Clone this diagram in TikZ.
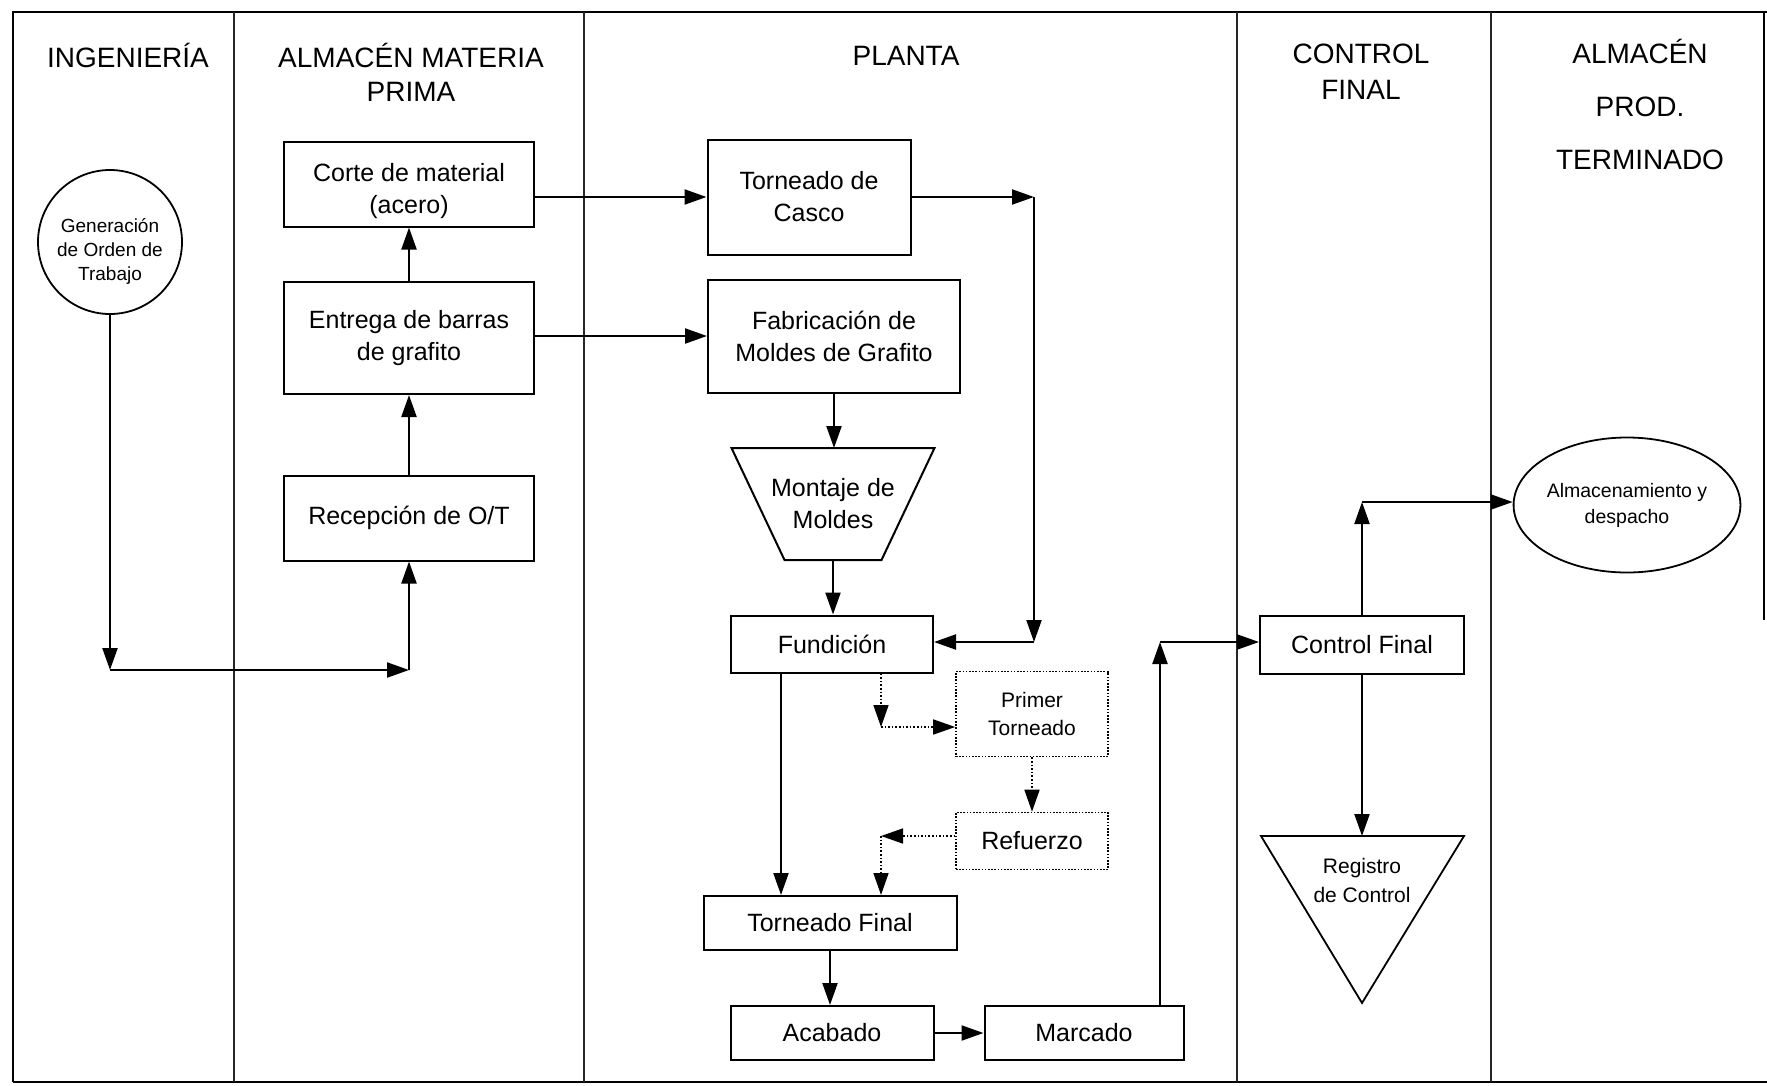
\documentclass[tikz,border=0pt]{standalone}
\usepackage{fontspec}
\setmainfont{Liberation Sans}
\usetikzlibrary{arrows.meta,shapes.geometric}
\begin{document}
\begin{tikzpicture}[x=1pt,y=-1pt,
  lane/.style={line width=2pt,black!85},
  hdr/.style={anchor=base,inner sep=0pt,font=\fontsize{28}{34}\selectfont},
  box/.style={draw,line width=2pt,rectangle,inner sep=0pt,align=center,font=\fontsize{25}{32}\selectfont},
  dbox/.style={box,line width=1.6pt,dash pattern=on 1.6pt off 1.6pt},
  arr/.style={line width=2.2pt,-{Triangle[length=22pt,width=15pt]}},
  darr/.style={line width=1.6pt,dash pattern=on 1.6pt off 2pt,-{Triangle[length=22pt,width=15pt]}}]
\useasboundingbox (0,0) rectangle (1767,1085);
% frame and lanes
\draw[line width=2.6pt] (13,1082) -- (13,12) -- (1767,12);
\draw[line width=2.6pt] (13,1082) -- (1767,1082);
\draw[line width=2.6pt] (1764,12) -- (1764,620);
\foreach \xx in {234,584,1237,1491} \draw[lane] (\xx,12) -- (\xx,1082);
% headers
\node[hdr] (h1) at (128,67) {INGENIERÍA};
\node[hdr] (h2a) at (411,67) {ALMACÉN MATERIA};
\node[hdr] (h2b) at (411,101) {PRIMA};
\node[hdr] (h3) at (906,65) {PLANTA};
\node[hdr] (h4a) at (1361,63) {CONTROL};
\node[hdr] (h4b) at (1361,99) {FINAL};
\node[hdr] (h5a) at (1640,63) {ALMACÉN};
\node[hdr] (h5b) at (1640,116) {PROD.};
\node[hdr] (h5c) at (1640,169) {TERMINADO};
% nodes
\node[draw,circle,line width=1.8pt,minimum size=144pt,inner sep=0pt,align=center,font=\fontsize{19}{24}\selectfont] (gen) at (110,242) {\rule{0pt}{32pt}Generación\\de Orden de\\Trabajo};
\node[box,minimum width=250pt,minimum height=85pt] (corte) at (409,184) {\rule{0pt}{32pt}Corte de material\\(acero)};
\node[box,minimum width=250pt,minimum height=112pt] (entrega) at (409,338) {Entrega de barras\\de grafito};
\node[box,minimum width=250pt,minimum height=85pt] (recep) at (409,518) {Recepción de O/T};
\node[box,minimum width=203pt,minimum height=115pt] (tc) at (809,197) {Torneado de\\Casco};
\node[box,minimum width=252pt,minimum height=113pt] (fab) at (834,336) {Fabricación de\\Moldes de Grafito};
\node[box,draw=none,minimum width=201pt,minimum height=110pt] (mont) at (833,504) {Montaje de\\Moldes};
\draw[line width=2pt,line join=miter] (mont.north west) -- (mont.north east) -- ([xshift=-53pt]mont.south east) -- ([xshift=53pt]mont.south west) -- cycle;
\node[box,minimum width=202pt,minimum height=57pt] (fun) at (832,644) {Fundición};
\node[dbox,minimum width=152pt,minimum height=85pt,font=\fontsize{21}{28}\selectfont] (pt) at (1032,714) {Primer\\Torneado};
\node[dbox,minimum width=152pt,minimum height=57pt] (ref) at (1032,841) {Refuerzo};
\node[box,minimum width=253pt,minimum height=54pt] (tf) at (830,923) {Torneado Final};
\node[box,minimum width=203pt,minimum height=54pt] (ac) at (832,1033) {Acabado};
\node[box,minimum width=199pt,minimum height=54pt] (mar) at (1084,1033) {Marcado};
\node[box,minimum width=204pt,minimum height=58pt] (cf) at (1362,645) {Control Final};
\node[draw,ellipse,line width=1.8pt,minimum width=224pt,minimum height=135pt,inner sep=0pt,align=center,font=\fontsize{19.5}{26}\selectfont] (alm) at (1627,505) {Almacenamiento y\\despacho};
% triangle Registro de Control
\coordinate (regL) at (1261,836);
\coordinate (regR) at (1464,836);
\coordinate (regA) at (1362,1003);
\coordinate (regtop) at (1362,836);
\draw[line width=1.8pt,line join=miter] (regL) -- (regR) -- (regA) -- cycle;
\node[align=center,inner sep=0pt,font=\fontsize{21}{29}\selectfont] (reg) at (1362,880) {Registro\\de Control};
% connectors
\coordinate (c1) at (110,670);
\draw[arr] (gen.south) -- (c1);
\draw[arr] (c1) -- (recep.south |- c1);
\draw[arr] (recep.south |- c1) -- (recep.south);
\draw[arr] (recep.north) -- (entrega.south);
\draw[arr] (entrega.north) -- (corte.south);
\draw[arr] (corte.east |- tc.west) -- (tc.west);
\draw[arr] (entrega.east |- fab.west) -- (fab.west);
\coordinate (f1) at (1034,197);
\coordinate (f2) at (1034,642);
\draw[arr] (tc.east) -- (f1);
\draw[arr] (f1) -- (f2);
\draw[arr] (f2) -- (fun.east |- f2);
\draw[arr] (fab.south) -- (fab.south |- mont.north);
\draw[arr] (mont.south) -- (mont.south |- fun.north);
\coordinate (fx) at (781,643);
\draw[arr] (fun.south -| fx) -- (tf.north -| fx);
% dotted
\coordinate (d1) at (881,727);
\draw[darr] (fun.south -| d1) -- (d1);
\draw[darr] (d1) -- (pt.west |- d1);
\draw[darr] (pt.south) -- (ref.north);
\coordinate (d2) at (881,836);
\draw[darr] (ref.west |- d2) -- (d2);
\draw[darr] (d2) -- (tf.north -| d2);
\draw[arr] (tf.south) -- (tf.south |- ac.north);
\draw[arr] (ac.east) -- (mar.west);
\coordinate (m1) at (1160,642);
\draw[arr] (mar.north -| m1) -- (m1);
\draw[arr] (m1) -- (cf.west |- m1);
\coordinate (p1) at (1362,502);
\draw[arr] (cf.north) -- (p1);
\draw[arr] (p1) -- (alm.west |- p1);
\draw[arr] (cf.south) -- (regtop);
\end{tikzpicture}
\end{document}
